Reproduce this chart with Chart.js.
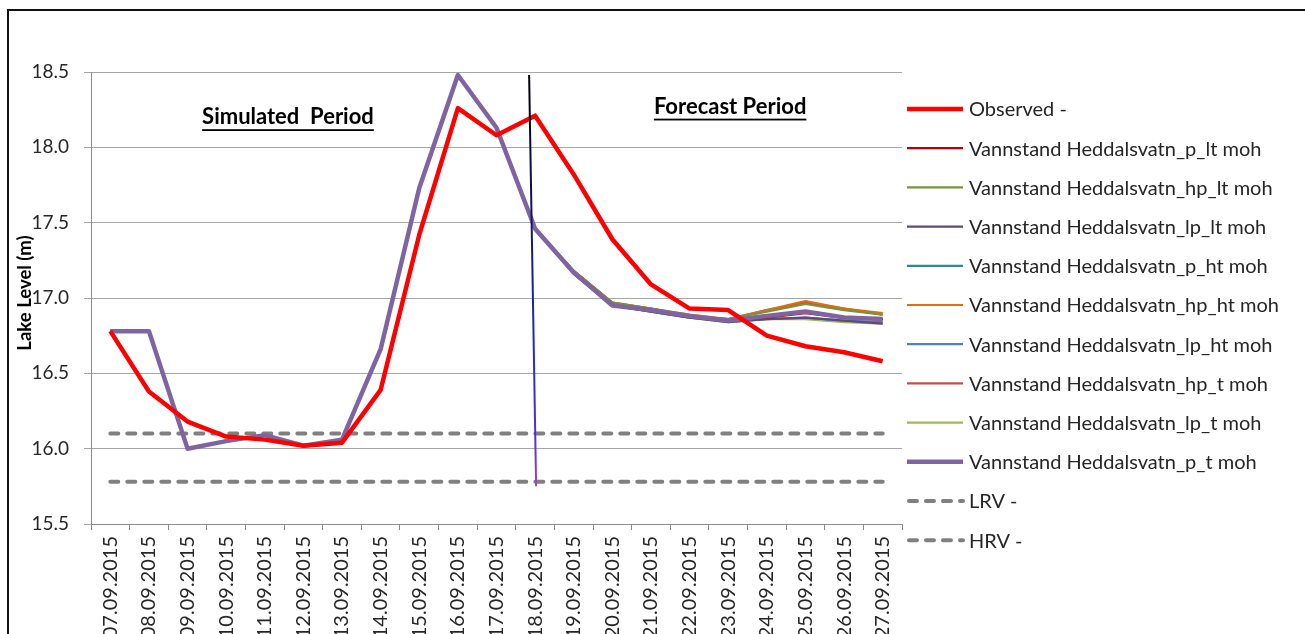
<!DOCTYPE html>
<html>
<head>
<meta charset="utf-8">
<title>Heddalsvatn – vannstand</title>
<script src="https://cdn.jsdelivr.net/npm/chart.js@4.4.1/dist/chart.umd.min.js"></script>
<style>
  html, body { margin: 0; padding: 0; background: #fff; overflow: hidden; }
  #frame { position: absolute; left: 7px; top: 9px; width: 1400px; height: 800px; border: 2px solid #111; box-sizing: border-box; }
  #wrap { position: absolute; left: 0; top: 0; width: 1305px; height: 700px; }
</style>
</head>
<body>
<div id="frame"></div>
<div id="wrap"><canvas id="levelChart"></canvas></div>
<script>
// ── data ──
const dates = [
  '07.09.2015', '08.09.2015', '09.09.2015', '10.09.2015', '11.09.2015', '12.09.2015', '13.09.2015',
  '14.09.2015', '15.09.2015', '16.09.2015', '17.09.2015', '18.09.2015', '19.09.2015', '20.09.2015',
  '21.09.2015', '22.09.2015', '23.09.2015', '24.09.2015', '25.09.2015', '26.09.2015', '27.09.2015'
];

const observed = [16.78, 16.38, 16.18, 16.08, 16.06, 16.02, 16.04, 16.39, 17.42, 18.26, 18.08,
                  18.21, 17.82, 17.39, 17.09, 16.93, 16.92, 16.75, 16.68, 16.64, 16.58];

// all model runs share the simulated history (07.09 - 18.09)
const simHistory = [16.78, 16.78, 16.00, 16.05, 16.09, 16.02, 16.06, 16.66, 17.73, 18.48, 18.13, 17.46];

// forecast part (19.09 - 27.09) per scenario
const fcPlt  = [17.17, 16.95, 16.92, 16.88, 16.85, 16.87, 16.90, 16.87, 16.86];
const fcHplt = [17.18, 16.97, 16.93, 16.88, 16.86, 16.91, 16.96, 16.92, 16.89];
const fcLplt = [17.16, 16.95, 16.91, 16.87, 16.84, 16.86, 16.87, 16.85, 16.83];
const fcPht  = [17.17, 16.96, 16.92, 16.88, 16.85, 16.88, 16.91, 16.87, 16.86];
const fcHpht = [17.18, 16.97, 16.93, 16.89, 16.86, 16.92, 16.98, 16.93, 16.90];
const fcLpht = [17.16, 16.95, 16.91, 16.87, 16.85, 16.86, 16.87, 16.85, 16.84];
const fcHpt  = [17.18, 16.97, 16.93, 16.88, 16.86, 16.92, 16.97, 16.93, 16.89];
const fcLpt  = [17.16, 16.95, 16.91, 16.87, 16.84, 16.86, 16.86, 16.84, 16.83];
const fcPt   = [17.17, 16.95, 16.92, 16.88, 16.85, 16.88, 16.91, 16.87, 16.86];

const lrvLevel = 15.78;
const hrvLevel = 16.10;

const yTicks = [15.5, 16.0, 16.5, 17.0, 17.5, 18.0, 18.5];

// forecast start marker (18.09) and its vertical span
const forecastStartIdx = 11;
const markerRange = [15.75, 18.48];

// ── series styling ──
const FONT = 'Lato';
const flat = v => dates.map(() => v);

const series = [
  { name: 'Observed -', data: observed, color: '#FF0000', width: 4.5, order: 0 },
  { name: 'Vannstand Heddalsvatn_p_lt moh',  data: simHistory.concat(fcPlt),  color: '#C00000', width: 2.2, order: 2 },
  { name: 'Vannstand Heddalsvatn_hp_lt moh', data: simHistory.concat(fcHplt), color: '#77933C', width: 2.2, order: 2 },
  { name: 'Vannstand Heddalsvatn_lp_lt moh', data: simHistory.concat(fcLplt), color: '#604A7B', width: 2.2, order: 2 },
  { name: 'Vannstand Heddalsvatn_p_ht moh',  data: simHistory.concat(fcPht),  color: '#31859C', width: 2.2, order: 2 },
  { name: 'Vannstand Heddalsvatn_hp_ht moh', data: simHistory.concat(fcHpht), color: '#E46C0A', width: 2.2, order: 2 },
  { name: 'Vannstand Heddalsvatn_lp_ht moh', data: simHistory.concat(fcLpht), color: '#4F81BD', width: 2.2, order: 2 },
  { name: 'Vannstand Heddalsvatn_hp_t moh',  data: simHistory.concat(fcHpt),  color: '#C0504D', width: 2.2, order: 2 },
  { name: 'Vannstand Heddalsvatn_lp_t moh',  data: simHistory.concat(fcLpt),  color: '#9BBB59', width: 2.2, order: 2 },
  { name: 'Vannstand Heddalsvatn_p_t moh',   data: simHistory.concat(fcPt),   color: '#8064A2', width: 4.5, order: 1 },
  { name: 'LRV -', data: flat(lrvLevel), color: '#808080', width: 4, dash: [8, 9], order: 3 },
  { name: 'HRV -', data: flat(hrvLevel), color: '#808080', width: 4, dash: [8, 9], order: 3 }
];

// ── plugins ──

// legend to the right of the plot
const sideLegend = {
  id: 'sideLegend',
  afterDraw(chart) {
    const ctx = chart.ctx;
    const x0 = chart.chartArea.right + 5;
    const sampleW = 56;
    const step = 39.2;
    let y = 109;
    ctx.save();
    chart.data.datasets.forEach(ds => {
      ctx.beginPath();
      ctx.strokeStyle = ds.borderColor;
      ctx.lineWidth = ds.borderWidth;
      ctx.setLineDash(ds.borderDash || []);
      ctx.lineCap = ds.borderDash ? 'round' : 'butt';
      ctx.moveTo(x0 + (ds.borderDash ? 2 : 0), y);
      ctx.lineTo(x0 + sampleW, y);
      ctx.stroke();
      ctx.setLineDash([]);
      ctx.fillStyle = '#262626';
      ctx.font = `20px ${FONT}`;
      ctx.textBaseline = 'middle';
      ctx.textAlign = 'left';
      ctx.fillText(ds.label, x0 + sampleW + 6, y + 1);
      y += step;
    });
    ctx.restore();
  }
};

// period headings, axis title and the forecast start marker
const periodLabels = [
  { text: 'Simulated  Period', at: 4.6, level: 18.2 },
  { text: 'Forecast Period', at: 16.05, level: 18.27 }
];

const annotations = {
  id: 'annotations',
  afterDatasetsDraw(chart) {
    const { ctx, chartArea, scales: { x, y } } = chart;
    ctx.save();

    // forecast start line
    const xm = x.getPixelForValue(forecastStartIdx);
    const yTop = y.getPixelForValue(markerRange[1]);
    const yBot = y.getPixelForValue(markerRange[0]);
    const grad = ctx.createLinearGradient(0, yTop, 0, yBot);
    grad.addColorStop(0, '#000000');
    grad.addColorStop(0.35, '#141466');
    grad.addColorStop(0.7, '#2a2ad0');
    grad.addColorStop(0.88, '#5a2ae0');
    grad.addColorStop(1, '#a040d0');
    ctx.beginPath();
    ctx.strokeStyle = grad;
    ctx.lineWidth = 2;
    ctx.moveTo(xm - 6, yTop);
    ctx.lineTo(xm + 1, yBot);
    ctx.stroke();

    // headings
    ctx.font = `bold 22px ${FONT}`;
    ctx.fillStyle = '#000';
    ctx.textAlign = 'center';
    ctx.textBaseline = 'middle';
    periodLabels.forEach(p => {
      const px = x.getPixelForValue(p.at);
      const py = y.getPixelForValue(p.level);
      ctx.fillText(p.text, px, py);
      const w = ctx.measureText(p.text).width;
      ctx.fillRect(px - w / 2, py + 12, w, 1.8);
    });

    // y axis title
    ctx.translate(25, (chartArea.top + chartArea.bottom) / 2 - 5);
    ctx.rotate(-Math.PI / 2);
    ctx.font = `bold 18.5px ${FONT}`;
    ctx.fillText('Lake Level (m)', 0, 0);
    ctx.restore();
  }
};

// ── chart ──
new Chart(document.getElementById('levelChart'), {
  type: 'line',
  data: {
    labels: dates,
    datasets: series.map(s => ({
      label: s.name,
      data: s.data,
      borderColor: s.color,
      backgroundColor: s.color,
      borderWidth: s.width,
      borderDash: s.dash,
      borderCapStyle: s.dash ? 'round' : 'butt',
      borderJoinStyle: 'round',
      order: s.order,
      pointRadius: 0,
      tension: 0,
      fill: false
    }))
  },
  options: {
    responsive: true,
    maintainAspectRatio: false,
    animation: false,
    layout: { padding: { left: 0, right: 403, top: 72, bottom: 56 } },
    plugins: { legend: { display: false }, tooltip: { enabled: false } },
    scales: {
      x: {
        offset: true,
        grid: { drawOnChartArea: false, drawTicks: true, tickLength: 6, color: '#8c8c8c', offset: true },
        border: { color: '#8c8c8c' },
        ticks: { autoSkip: false, minRotation: 90, maxRotation: 90, padding: 6, color: '#262626', font: { family: FONT, size: 20 } },
        afterFit: s => { s.height = 120; }
      },
      y: {
        min: 15.5,
        max: 18.5,
        afterBuildTicks: s => { s.ticks = yTicks.map(v => ({ value: v })); },
        grid: { color: '#a6a6a6', tickLength: 7 },
        border: { color: '#8c8c8c' },
        ticks: { padding: 15, color: '#262626', font: { family: FONT, size: 19 }, callback: v => v.toFixed(1) },
        afterFit: s => { s.width = 91; }
      }
    }
  },
  plugins: [annotations, sideLegend]
});
</script>
</body>
</html>
